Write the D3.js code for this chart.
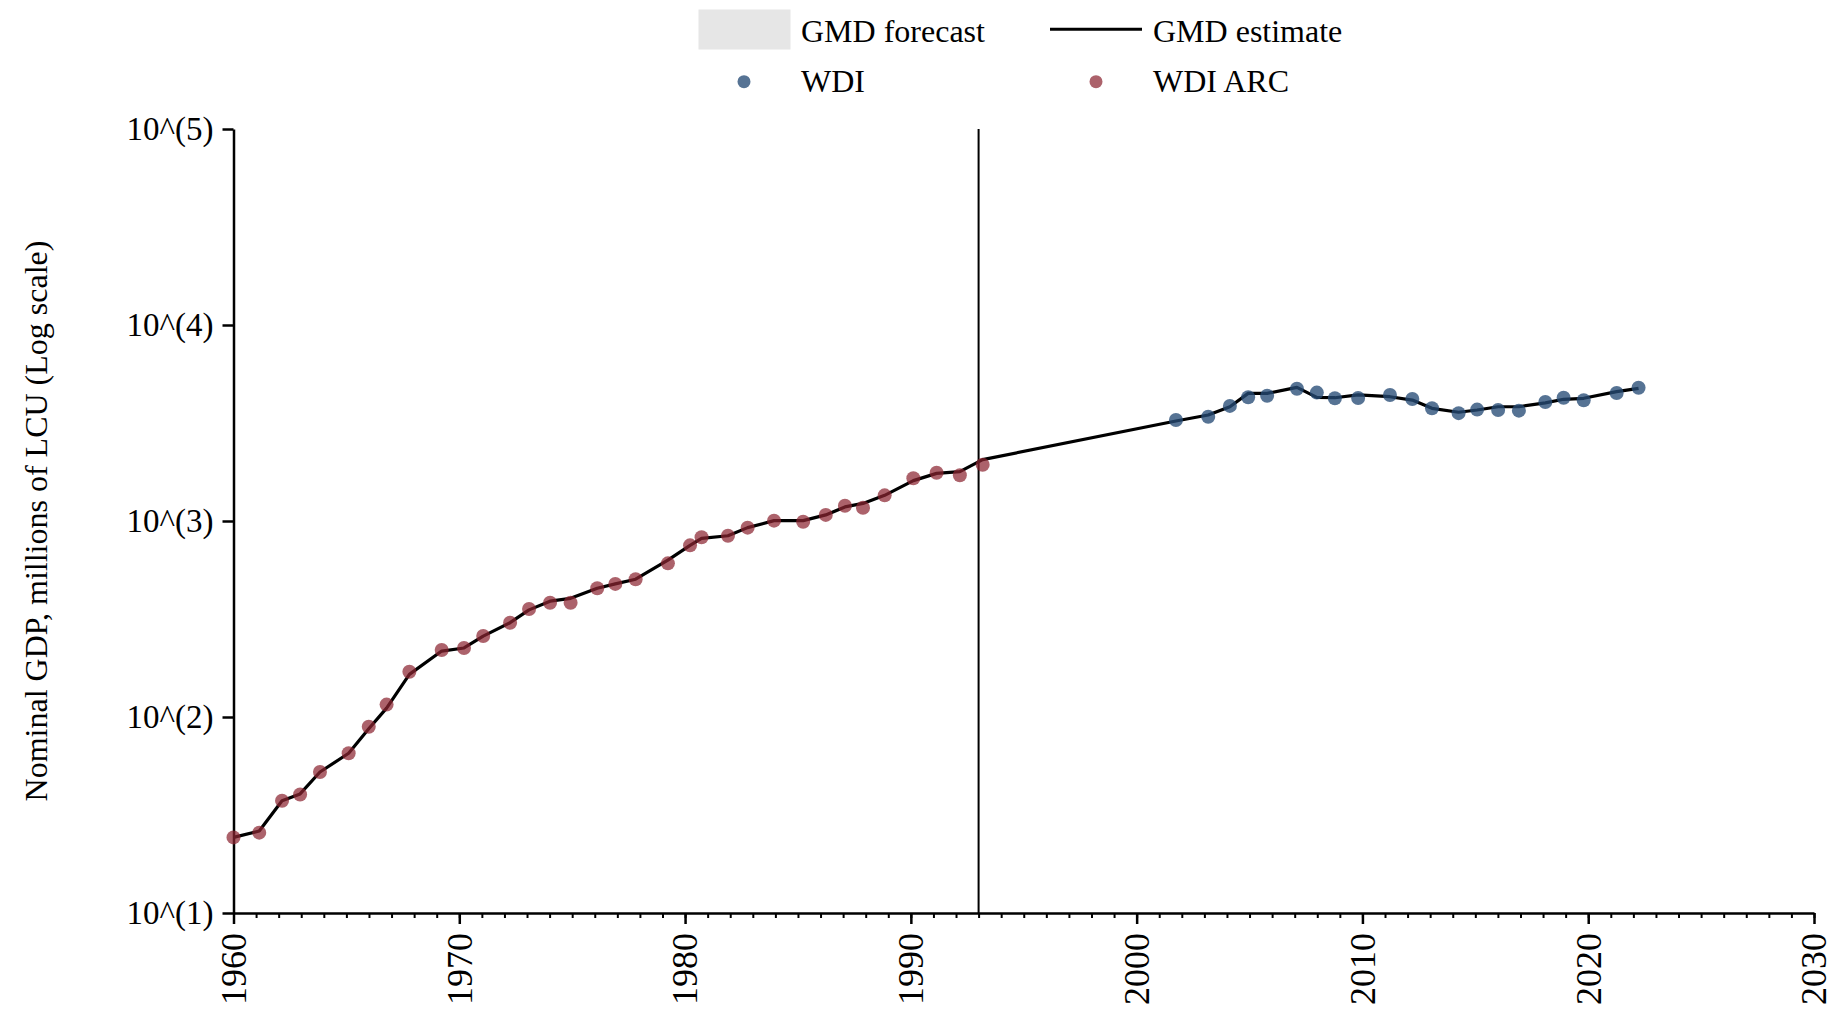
<!DOCTYPE html>
<html>
<head>
<meta charset="utf-8">
<script src="https://cdn.jsdelivr.net/npm/d3@7"></script>
<style>
  body { margin: 0; background: #fff; }
  svg { display: block; font-family: "Liberation Serif", "Times New Roman", serif; }
</style>
</head>
<body>
<div id="chart"></div>
<script>
// WDI ARC (archived) observations
var arcYears = [1960.0, 1961.14, 1962.15, 1962.95, 1963.83, 1965.10, 1965.99, 1966.78, 1967.79, 1969.22,
                1970.21, 1971.06, 1972.25, 1973.09, 1974.02, 1974.93, 1976.11, 1976.91, 1977.81, 1979.24,
                1980.22, 1980.73, 1981.90, 1982.77, 1983.94, 1985.23, 1986.23, 1987.08, 1987.88, 1988.84,
                1990.11, 1991.14, 1992.17, 1993.18];
var arcValues = [24.3, 25.7, 37.4, 40.2, 52.4, 65.3, 89.1, 115.7, 170.2, 219.8,
                 225, 258.8, 302.8, 355.6, 382.7, 382.7, 453.8, 477.5, 504.7, 608,
                 751, 826, 841, 925, 1004, 991, 1074, 1197, 1169, 1352,
                 1652, 1762, 1711, 1937];

// WDI observations
var wdiYears = [2001.74, 2003.17, 2004.13, 2004.94, 2005.78, 2007.10, 2007.98, 2008.78, 2009.81, 2011.22,
                2012.21, 2013.08, 2014.26, 2015.08, 2016.01, 2016.93, 2018.10, 2018.91, 2019.80, 2021.26,
                2022.23];
var wdiValues = [3273, 3404, 3865, 4276, 4356, 4730, 4520, 4227, 4245, 4397,
                 4189, 3758, 3551, 3701, 3684, 3655, 4046, 4256, 4131, 4498,
                 4787];

// GMD estimate line
var estYears = arcYears.concat(wdiYears);
var estValues = [24.3, 26.2, 37.4, 40.5, 52.4, 65.3, 87, 111, 165, 217,
                 225, 258.8, 302.8, 352, 390, 403, 453.8, 477.5, 504.7, 632,
                 751, 815, 841, 925, 1004, 1004, 1074, 1180, 1230, 1352,
                 1607, 1750, 1786, 2056,
                 3236, 3475, 3828, 4478, 4478, 4809, 4276, 4256, 4397, 4306,
                 4140, 3758, 3589, 3684, 3828, 3828, 4008, 4178, 4227, 4571,
                 4753];

var yTickValues = [10, 100, 1000, 10000, 100000];
var xTickValues = [1960, 1970, 1980, 1990, 2000, 2010, 2020, 2030];
var splitYear = 1993;

var width = 1840, height = 1020,
    margin = { top: 129, right: 26, bottom: 107, left: 233.5 },
    serif = '"Liberation Serif", "Times New Roman", serif',
    redColor = 'rgba(140, 38, 50, 0.72)',
    blueColor = 'rgba(38, 76, 118, 0.78)';

var svg = d3.select('#chart').append('svg')
    .attr('width', width)
    .attr('height', height);

svg.append('rect')
    .attr('width', width)
    .attr('height', height)
    .attr('fill', '#fff');

var x = d3.scaleLinear()
    .domain([1960, 2030])
    .range([margin.left, width - margin.right]);

var y = d3.scaleLog()
    .domain([10, 100000])
    .range([height - margin.bottom, margin.top]);

// minor year ticks
svg.append('g')
    .attr('transform', 'translate(0,' + (height - margin.bottom) + ')')
    .call(d3.axisBottom(x).tickValues(d3.range(1960, 2031)).tickSize(5).tickSizeOuter(0).tickFormat(''))
    .call(function (g) { g.select('.domain').remove(); })
    .selectAll('line').attr('stroke-width', 2);

// x axis
var xAxis = svg.append('g')
    .attr('transform', 'translate(0,' + (height - margin.bottom) + ')')
    .call(d3.axisBottom(x).tickValues(xTickValues).tickSize(11).tickSizeOuter(0).tickFormat(d3.format('d')));

xAxis.select('.domain').attr('stroke-width', 2.5);
xAxis.selectAll('line').attr('stroke-width', 2.5);
xAxis.selectAll('text')
    .attr('x', 0)
    .attr('y', 0)
    .attr('dy', '0.33em')
    .attr('transform', 'translate(0,20) rotate(-90)')
    .attr('text-anchor', 'end')
    .attr('font-size', 36)
    .attr('font-family', serif)
    .attr('fill', '#000');

// y axis
var yAxis = svg.append('g')
    .attr('transform', 'translate(' + margin.left + ',0)')
    .call(d3.axisLeft(y).tickValues(yTickValues).tickSize(11).tickSizeOuter(0).tickPadding(9)
        .tickFormat(function (d) { return '10^(' + Math.round(Math.log10(d)) + ')'; }));

yAxis.select('.domain').attr('stroke-width', 2.5);
yAxis.selectAll('line').attr('stroke-width', 2.5);
yAxis.selectAll('text')
    .attr('font-size', 33)
    .attr('font-family', serif)
    .attr('fill', '#000');

// y title
svg.append('text')
    .attr('transform', 'translate(47,' + ((margin.top + height - margin.bottom) / 2) + ') rotate(-90)')
    .attr('text-anchor', 'middle')
    .attr('font-size', 32)
    .attr('fill', '#000')
    .text('Nominal GDP, millions of LCU (Log scale)');

// split line
svg.append('line')
    .attr('x1', x(splitYear))
    .attr('x2', x(splitYear))
    .attr('y1', y(100000))
    .attr('y2', y(10))
    .attr('stroke', '#000')
    .attr('stroke-width', 2);

// GMD estimate
var line = d3.line()
    .x(function (d, i) { return x(estYears[i]); })
    .y(function (d) { return y(d); });

svg.append('path')
    .datum(estValues)
    .attr('d', line)
    .attr('fill', 'none')
    .attr('stroke', '#000')
    .attr('stroke-width', 3.2)
    .attr('stroke-linejoin', 'round');

// points
svg.append('g').selectAll('circle')
    .data(arcValues)
    .join('circle')
    .attr('cx', function (d, i) { return x(arcYears[i]); })
    .attr('cy', function (d) { return y(d); })
    .attr('r', 7)
    .attr('fill', redColor);

svg.append('g').selectAll('circle')
    .data(wdiValues)
    .join('circle')
    .attr('cx', function (d, i) { return x(wdiYears[i]); })
    .attr('cy', function (d) { return y(d); })
    .attr('r', 7)
    .attr('fill', blueColor);

// legend
var legend = svg.append('g').attr('class', 'legend').attr('font-size', 32).attr('fill', '#000');

legend.append('rect')
    .attr('x', 698.5).attr('y', 9.5).attr('width', 92).attr('height', 40)
    .attr('fill', '#e6e6e6');
legend.append('text').attr('x', 801).attr('y', 41.5).text('GMD forecast');

legend.append('line')
    .attr('x1', 1050).attr('x2', 1142).attr('y1', 29.3).attr('y2', 29.3)
    .attr('stroke', '#000').attr('stroke-width', 3);
legend.append('text').attr('x', 1153).attr('y', 41.5).text('GMD estimate');

legend.append('circle').attr('cx', 744).attr('cy', 81.7).attr('r', 6.5).attr('fill', blueColor);
legend.append('text').attr('x', 801).attr('y', 92.3).text('WDI');

legend.append('circle').attr('cx', 1096).attr('cy', 81.7).attr('r', 6.5).attr('fill', redColor);
legend.append('text').attr('x', 1153).attr('y', 92.3).text('WDI ARC');
</script>
</body>
</html>
